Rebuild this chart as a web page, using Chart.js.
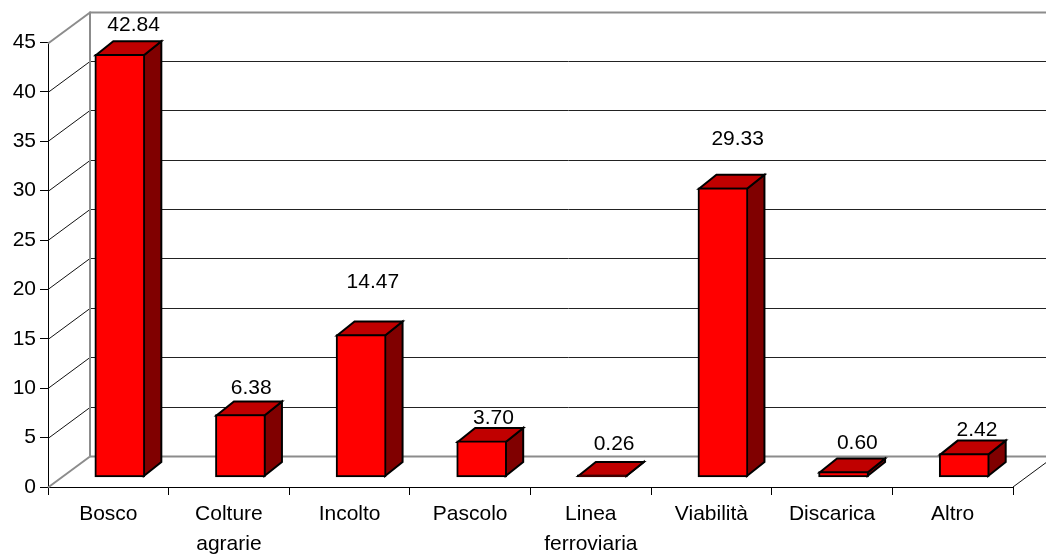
<!DOCTYPE html>
<html>
<head>
<meta charset="utf-8">
<script src="https://cdn.jsdelivr.net/npm/chart.js@4"></script>
<style>
    html, body { margin: 0; padding: 0; background: #fff; }
    canvas { display: block; }
</style>
</head>
<body>
<canvas id="chart" width="1046" height="557"></canvas>
<script>
const categories = ['Bosco', ['Colture', 'agrarie'], 'Incolto', 'Pascolo', ['Linea', 'ferroviaria'], 'Viabilità', 'Discarica', 'Altro'];
const values = [42.84, 6.38, 14.47, 3.70, 0.26, 29.33, 0.60, 2.42];
const valueLabels = ['42.84', '6.38', '14.47', '3.70', '0.26', '29.33', '0.60', '2.42'];
// how far each label floats above its bar, Excel placed them unevenly
const labelLift = [15, 12, 38, 9, 17, 35, 14, 9];
const labelNudge = [0, -3, -2, -2, -2, 1, 0, -1];

const FONT = '"Liberation Sans", Arial, sans-serif';
const FONT_SIZE = 21;

// depth of the 3D walls, of the bars and where bars sit on the floor
const wall = { dx: 42, dy: 31 };
const barDepth = { dx: 17.5, dy: 14 };
const barShift = { dx: 11.5, dy: 9.5 };

const line = (ctx, x1, y1, x2, y2, color, width) => {
    ctx.strokeStyle = color;
    ctx.lineWidth = width;
    ctx.beginPath();
    ctx.moveTo(x1, y1);
    ctx.lineTo(x2, y2);
    ctx.stroke();
};

const poly = (ctx, points, fill) => {
    ctx.beginPath();
    points.forEach(([x, y], i) => (i ? ctx.lineTo(x, y) : ctx.moveTo(x, y)));
    ctx.closePath();
    ctx.fillStyle = fill;
    ctx.fill();
    ctx.strokeStyle = '#000';
    ctx.lineWidth = 2;
    ctx.lineJoin = 'miter';
    ctx.stroke();
};

const walls3d = {
    id: 'walls3d',
    beforeDatasetsDraw(chart) {
        const { ctx, scales: { x, y } } = chart;
        const left = x.left, right = x.right;
        ctx.save();
        y.ticks.forEach((tick) => {
            const py = Math.round(y.getPixelForValue(tick.value)) + 0.5;
            const isEdge = tick.value === 0 || tick.value === 45;
            if (isEdge) {
                line(ctx, left, py, left + wall.dx, py - wall.dy, '#8c8c8c', 2);
                line(ctx, left + wall.dx, py - wall.dy, right + wall.dx, py - wall.dy, '#8c8c8c', 2);
            } else {
                line(ctx, left, py, left + wall.dx, py - wall.dy, '#111', 1);
                line(ctx, left + wall.dx, py - wall.dy, right + wall.dx, py - wall.dy, '#222', 1);
            }
        });
        line(ctx, left + wall.dx, y.top - wall.dy, left + wall.dx, y.bottom - wall.dy, '#8c8c8c', 2);
        line(ctx, right, y.bottom, right + wall.dx, y.bottom - wall.dy, '#111', 1);
        ctx.restore();
    }
};

const bars3d = {
    id: 'bars3d',
    // the library draws the red fronts, moved back onto the floor
    beforeDatasetDraw(chart, args) {
        const { ctx } = chart;
        ctx.save();
        ctx.translate(barShift.dx, -barShift.dy);
        args.meta.data.forEach((bar) => {
            const l = bar.x - bar.width / 2 + 1, r = bar.x + bar.width / 2 - 1;
            const t = bar.y + 1, b = bar.base - 1;
            const { dx, dy } = barDepth;
            poly(ctx, [[r, t], [r + dx, t - dy], [r + dx, b - dy], [r, b]], '#800000');
            poly(ctx, [[l, t], [l + dx, t - dy], [r + dx, t - dy], [r, t]], '#c00000');
        });
    },
    afterDatasetDraw(chart) {
        chart.ctx.restore();
    },
    afterDatasetsDraw(chart) {
        const { ctx } = chart;
        const bars = chart.getDatasetMeta(0).data;
        ctx.save();
        ctx.fillStyle = '#000';
        ctx.font = `${FONT_SIZE}px ${FONT}`;
        ctx.textAlign = 'center';
        ctx.textBaseline = 'middle';
        bars.forEach((bar, i) => {
            const topBack = bar.y - barShift.dy - barDepth.dy;
            const cx = bar.x + barShift.dx + barDepth.dx / 2 + 5 + labelNudge[i];
            ctx.fillText(valueLabels[i], cx, topBack - labelLift[i]);
        });
        ctx.restore();
    }
};

new Chart(document.getElementById('chart'), {
    type: 'bar',
    data: {
        labels: categories,
        datasets: [{
            data: values,
            backgroundColor: '#ff0000',
            borderColor: '#000',
            borderWidth: 2,
            borderSkipped: false,
            barThickness: 50,
            clip: false
        }]
    },
    plugins: [walls3d, bars3d],
    options: {
        responsive: false,
        animation: false,
        layout: { padding: { top: 42.5, right: 33, bottom: 0, left: 0 } },
        plugins: { legend: { display: false }, tooltip: { enabled: false } },
        scales: {
            x: {
                afterFit: (scale) => { scale.height = 70; },
                border: { color: '#000', width: 1 },
                grid: { drawOnChartArea: false, color: '#000', tickLength: 8, tickWidth: 1 },
                ticks: {
                    color: '#000',
                    padding: 5,
                    maxRotation: 0,
                    autoSkip: false,
                    font: { family: FONT, size: FONT_SIZE, lineHeight: 1.4 }
                }
            },
            y: {
                min: 0,
                max: 45,
                afterFit: (scale) => { scale.width = 48; },
                border: { color: '#000', width: 1 },
                grid: { drawOnChartArea: false, color: '#000', tickLength: 8, tickWidth: 1 },
                ticks: {
                    stepSize: 5,
                    color: '#000',
                    padding: 4,
                    font: { family: FONT, size: FONT_SIZE }
                }
            }
        }
    }
});
</script>
</body>
</html>
